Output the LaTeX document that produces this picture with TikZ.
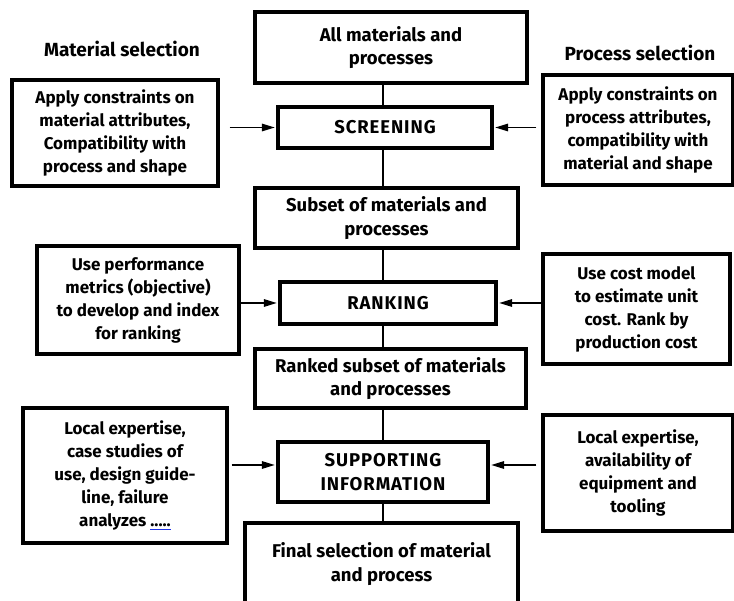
\documentclass[tikz,border=0pt]{standalone}
\usepackage{fontspec}
\setmainfont{Fira Sans}
\usetikzlibrary{arrows.meta}
\definecolor{linkblue}{RGB}{30,50,230}
\newcommand\dotsul{\sbox0{.....}\rlap{\textcolor{linkblue}{\rule[-4pt]{\wd0}{1.3pt}}}\usebox0}
\begin{document}
\begin{tikzpicture}[x=1pt,y=-1pt,
 box/.style={draw, line width=3.4pt, align=center, font=\bfseries\fontsize{18.5}{23.5}\selectfont, inner sep=0pt},
 capbox/.style={box, font=\bfseries\fontsize{18.5}{24}\selectfont\addfontfeatures{LetterSpace=5}},
 side/.style={box, line width=3.2pt, font=\bfseries\fontsize{17}{23}\selectfont},
 conn/.style={line width=2.8pt},
 arr/.style={line width=1.6pt, shorten >=1.5pt, -{Triangle[length=13pt,width=7.5pt]}},
 head/.style={font=\bfseries\fontsize{19}{22}\selectfont}]
\useasboundingbox (0,0) rectangle (734,601);
\clip (0,0) rectangle (734,601);
% headings
\node[head] (hm) at (122,49) {Material selection};
\node[head] (hp) at (640,53) {Process selection};
% central column
\node[box, minimum width=272pt, minimum height=71pt] (top) at (391,47.5) {All materials and\\processes};
\node[capbox, minimum width=214pt, minimum height=41pt] (scr) at (385,127.5) {SCREENING};
\node[box, minimum width=263pt, minimum height=60pt] (sub) at (386.5,218) {Subset of materials and\\processes};
\node[capbox, minimum width=216pt, minimum height=42pt] (rank) at (388,303) {RANKING};
\node[box, minimum width=271pt, minimum height=59pt] (rsub) at (390.5,378.5) {Ranked subset of materials\\and processes};
\node[capbox, minimum width=210pt, minimum height=60pt] (sup) at (383,472) {SUPPORTING\\INFORMATION};
\node[box, minimum width=273pt, minimum height=82pt] (fin) at (381.5,564) {Final selection of material\\and process};
% side boxes
\node[side, minimum width=206pt, minimum height=106pt] (l1) at (115,133) {Apply constraints on\\material attributes,\\Compatibility with\\process and shape};
\node[side, minimum width=190pt, minimum height=110pt] (r1) at (638,130) {Apply constraints on\\process attributes,\\compatibility with\\material and shape};
\node[side, minimum width=202pt, minimum height=108pt] (l2) at (138,300) {Use performance\\metrics (objective)\\to develop and index\\for ranking};
\node[side, minimum width=187pt, minimum height=110pt] (r2) at (636.5,309) {Use cost model\\to estimate unit\\cost. Rank by\\production cost};
\node[side, minimum width=204pt, minimum height=135pt] (l3) at (125,475.5) {Local expertise,\\case studies of\\use, design guide-\\line, failure\\analyzes \dotsul};
\node[side, minimum width=190pt, minimum height=116pt] (r3) at (638,473) {Local expertise,\\availability of\\equipment and\\tooling};
% vertical connectors
\coordinate (ax) at (383,0);
\draw[conn] (top.south -| ax) -- (scr.north -| ax);
\draw[conn] (scr.south -| ax) -- (sub.north -| ax);
\draw[conn] (sub.south -| ax) -- (rank.north -| ax);
\draw[conn] (rank.south -| ax) -- (rsub.north -| ax);
\draw[conn] (rsub.south -| ax) -- (sup.north -| ax);
\draw[conn] (sup.south -| ax) -- (fin.north -| ax);
% arrows
\draw[arr] ([xshift=10pt]l1.east |- scr.west) -- (scr.west);
\draw[arr] ([xshift=-5pt]r1.west |- scr.east) -- (scr.east);
\draw[arr] (l2.east |- rank.west) -- (rank.west);
\draw[arr] (r2.west |- rank.east) -- (rank.east);
\coordinate (sw) at ([yshift=7pt]sup.west);
\coordinate (se) at ([yshift=7pt]sup.east);
\draw[arr] ([xshift=3pt]l3.east |- sw) -- (sw);
\draw[arr] ([xshift=-5pt]r3.west |- se) -- (se);
\end{tikzpicture}
\end{document}
